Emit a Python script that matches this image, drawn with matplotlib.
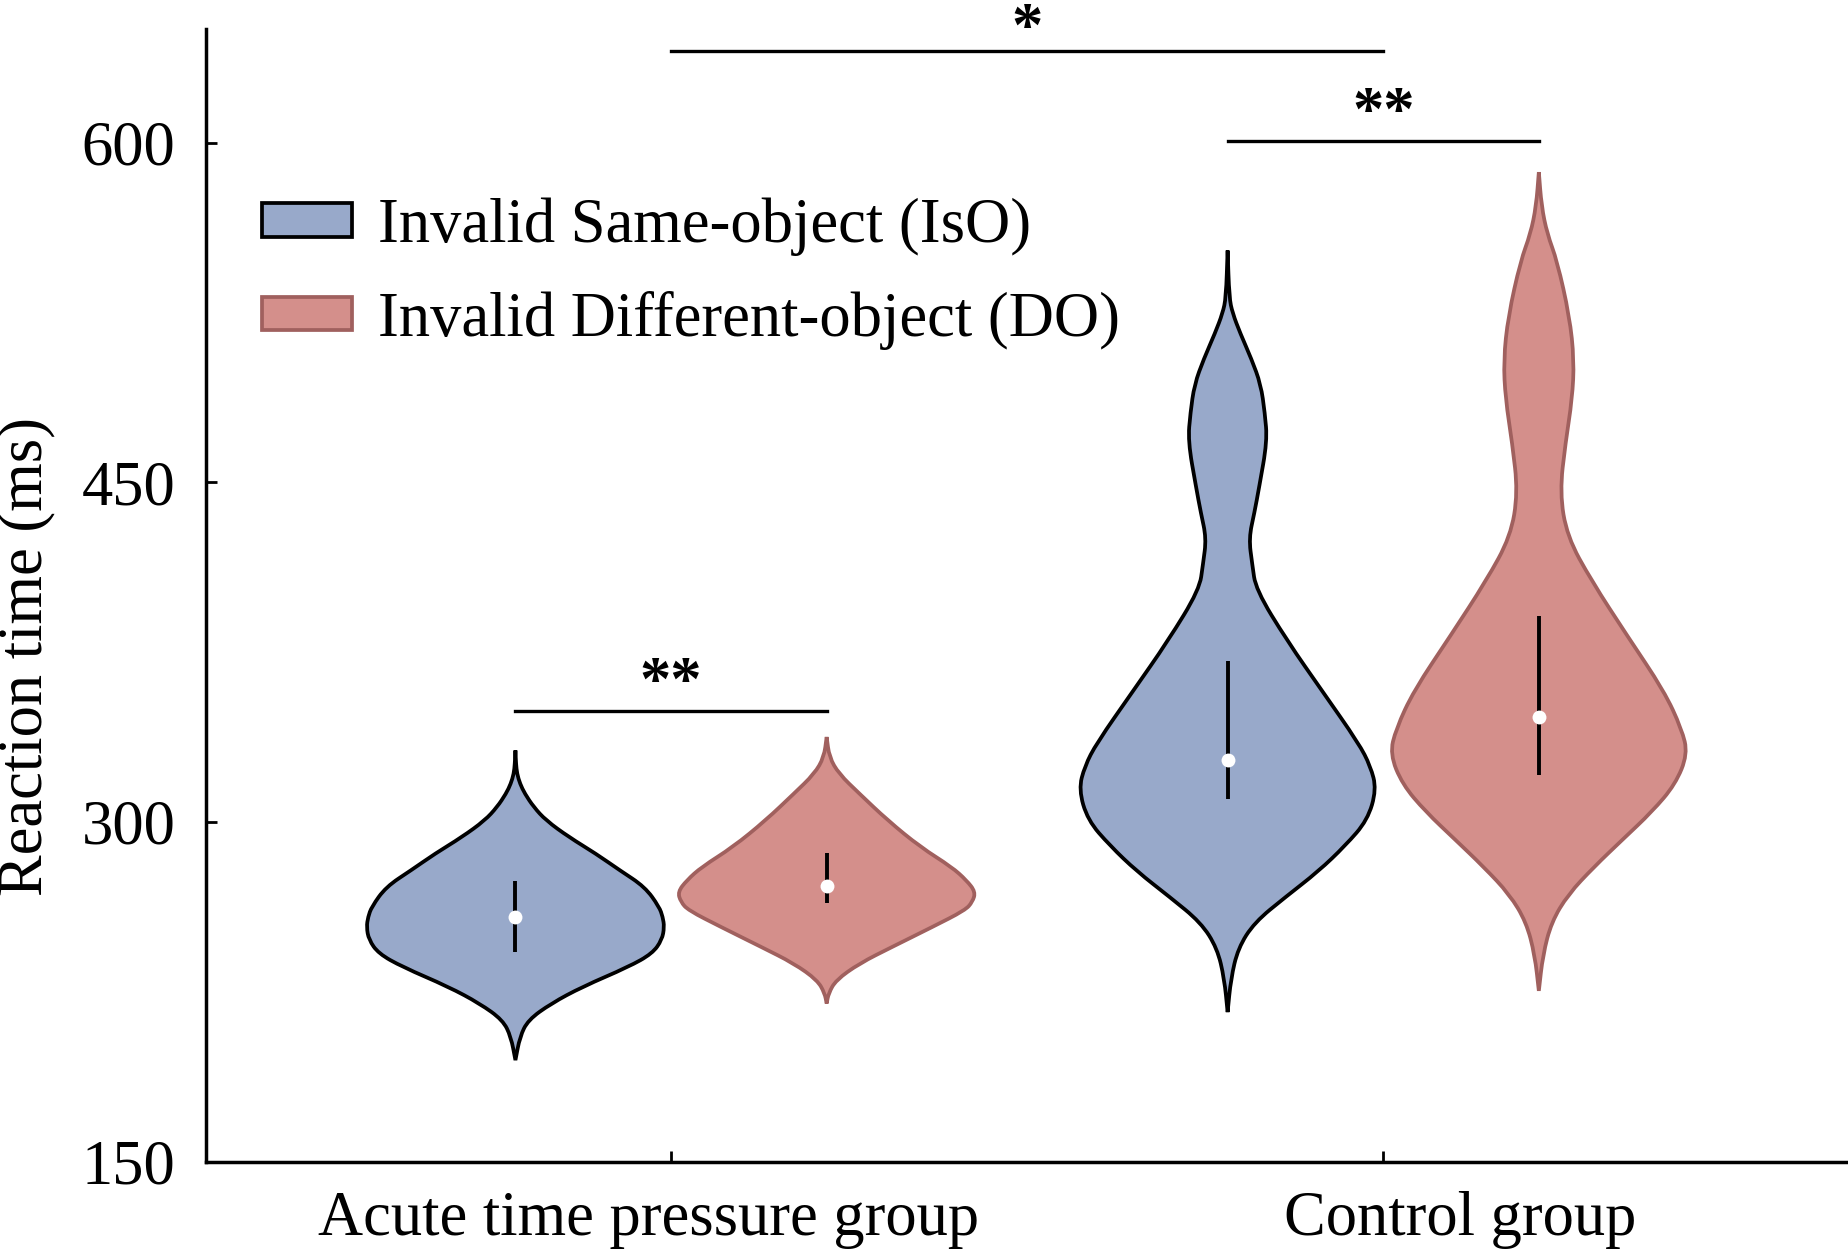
import numpy as np
import matplotlib
matplotlib.use("Agg")
import matplotlib.pyplot as plt
from matplotlib.patches import Patch, PathPatch
from matplotlib.path import Path

plt.rcParams['font.family'] = ['Liberation Serif', 'DejaVu Serif']

groups = ["Acute time pressure group", "Control group"]
conditions = ["Invalid Same-object (IsO)", "Invalid Different-object (DO)"]

# violin outlines: reaction time (ms) and relative half-width
iso_acute_rt = [194.8, 205.1, 212.5, 219.8, 227.2, 236.0, 241.9, 248.0, 253.6, 258.0, 262.5,
                271.3, 278.7, 286.0, 293.3, 300.7, 306.6, 312.5, 316.9, 321.3, 325.7, 331.6]
iso_acute_w = [0, .03, .085, .24, .45, .76, .92, .985, 1.0, .99, .966,
               .87, .70, .54, .36, .205, .123, .063, .031, .011, .004, 0]

do_acute_rt = [219.8, 224.3, 230.1, 237.5, 244.8, 253.6, 261.0, 264.7, 269.1, 274.2,
               280.1, 288.9, 300.7, 312.5, 321.3, 328.6, 337.5]
do_acute_w = [0, .013, .062, .22, .44, .71, .93, .98, 1.0, .94,
              .84, .63, .41, .22, .082, .018, 0]

iso_ctrl_rt = [216.0, 230.7, 244.2, 255.6, 266.9, 278.2, 289.5, 300.8, 314.4, 324.6, 334.8,
               357.4, 380.0, 402.6, 414.0, 425.3, 436.6, 447.9, 468.2, 480.7, 493.2, 504.5,
               515.8, 524.8, 531.6, 552.4]
iso_ctrl_w = [0, .022, .07, .18, .39, .61, .79, .94, 1.0, .96, .88,
              .64, .40, .19, .165, .143, .18, .212, .266, .25, .223, .16,
              .085, .033, .011, 0]

do_ctrl_rt = [225.4, 241.2, 255.8, 268.0, 280.1, 292.3, 304.5, 316.6, 330.0, 341.0, 358.0,
              382.3, 406.6, 426.1, 445.5, 467.4, 486.9, 503.9, 523.3, 547.7, 559.8, 572.0, 587.0]
do_ctrl_w = [0, .027, .085, .197, .37, .564, .76, .917, 1.0, .96, .84,
             .593, .353, .19, .141, .179, .224, .237, .206, .123, .056, .018, 0]

# median and interquartile range per group
iso_median = [257.8, 327.5]
iso_q1 = [242.6, 310.3]
iso_q3 = [273.8, 371.0]
do_median = [271.7, 346.3]
do_q1 = [264.2, 320.7]
do_q3 = [286.5, 390.8]

# significance brackets
within_y = [348.8, 600.7]
within_txt = ["**", "**"]
between_y = 640.4
between_txt = "*"

blue = "#98A9CA"
red = "#D48F8B"
red_edge = "#A0605E"

offset = 0.2185
half_w = 0.209


def smooth_side(xs, ys):
    # quadratic b-spline through midpoints, ends stay on the tips
    verts = [(xs[0], ys[0])]
    codes = [Path.LINETO]
    verts.append(((xs[0] + xs[1]) / 2, (ys[0] + ys[1]) / 2))
    codes.append(Path.LINETO)
    for i in range(1, len(xs) - 1):
        verts.append((xs[i], ys[i]))
        verts.append(((xs[i] + xs[i + 1]) / 2, (ys[i] + ys[i + 1]) / 2))
        codes += [Path.CURVE3, Path.CURVE3]
    verts.append((xs[-1], ys[-1]))
    codes.append(Path.LINETO)
    return verts, codes


def violin_patch(pos, rt, w, fc, ec):
    w = np.array(w) * half_w
    rt = np.array(rt)
    v1, c1 = smooth_side(pos + w, rt)
    v2, c2 = smooth_side((pos - w)[::-1], rt[::-1])
    verts = v1 + v2[1:] + [v1[0]]
    codes = [Path.MOVETO] + c1[1:] + c2[1:] + [Path.CLOSEPOLY]
    return PathPatch(Path(verts, codes), facecolor=fc, edgecolor=ec, linewidth=2.7, zorder=2)


fig = plt.figure(figsize=(18.49, 12.49), dpi=100)
ax = fig.add_axes([0.1114, 0.07, 0.8886, 0.9064])

iso = [(iso_acute_rt, iso_acute_w), (iso_ctrl_rt, iso_ctrl_w)]
do = [(do_acute_rt, do_acute_w), (do_ctrl_rt, do_ctrl_w)]

for g in range(2):
    for (rt, w), pos, fc, ec, med, q1, q3 in [
            (iso[g], g - offset, blue, "black", iso_median[g], iso_q1[g], iso_q3[g]),
            (do[g], g + offset, red, red_edge, do_median[g], do_q1[g], do_q3[g])]:
        ax.add_patch(violin_patch(pos, rt, w, fc, ec))
        ax.vlines(pos, q1, q3, color="black", linewidth=2.8, zorder=3)
        ax.plot(pos, med, "o", color="white", ms=10, mec="none", zorder=4)

# significance lines
for g in range(2):
    ax.plot([g - offset, g + offset], [within_y[g], within_y[g]], color="black", lw=2.4,
            clip_on=False)
    ax.text(g, within_y[g] + 5, within_txt[g], ha="center", va="baseline",
            fontsize=45, fontweight="bold")
ax.plot([0, 1], [between_y, between_y], color="black", lw=2.4, clip_on=False)
ax.text(0.5, between_y + 2.5, between_txt, ha="center", va="baseline",
        fontsize=45, fontweight="bold")

ax.set_xlim(-0.653, 1.654)
ax.set_ylim(150, 650)
ax.set_yticks([150, 300, 450, 600])
ax.set_xticks([0, 1])
ax.set_xticklabels([])
ax.tick_params(direction="in", length=8, width=2, labelsize=45, pad=22)
for s in ["top", "right"]:
    ax.spines[s].set_visible(False)
for s in ["left", "bottom"]:
    ax.spines[s].set_linewidth(2.5)

# group names sit a bit off the ticks in the original
label_x = [-0.032, 1.108]
for x, name in zip(label_x, groups):
    ax.text(x, -0.0648, name, transform=ax.get_xaxis_transform(), ha="center",
            va="baseline", fontsize=45)

fig.text(26 / 1849, 1 - 657 / 1249, "Reaction time (ms)", rotation=90,
         ha="center", va="center", fontsize=45)

handles = [Patch(facecolor=blue, edgecolor="black", linewidth=2.7, label=conditions[0]),
           Patch(facecolor=red, edgecolor=red_edge, linewidth=2.7, label=conditions[1])]
ax.legend(handles=handles, loc="upper left", bbox_to_anchor=(262 / 1849, 1 - 198 / 1249),
          bbox_transform=fig.transFigure, frameon=False, fontsize=45,
          handlelength=1.44, handleheight=0.45, handletextpad=0.42,
          labelspacing=0.55, borderpad=0, borderaxespad=0)

fig.savefig("out.png", dpi=100)
